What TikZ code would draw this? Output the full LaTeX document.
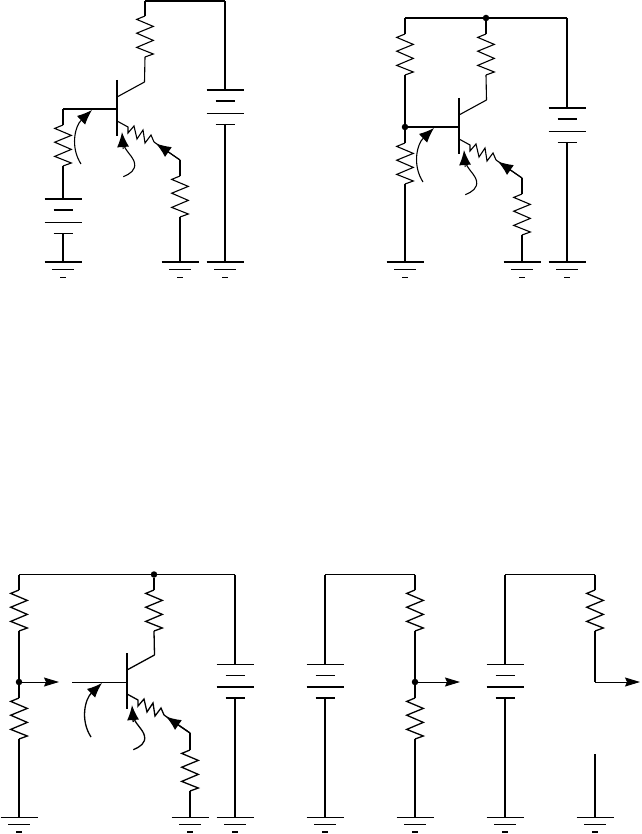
\documentclass[tikz,border=0pt]{standalone}
\usetikzlibrary{arrows.meta}

\tikzset{
    wire/.style={line width=1.1pt},
    heavy/.style={line width=1.7pt},
    upperplate/.style={line width=1.7pt},
    lowerplate/.style={line width=.8pt},
    bigtip/.style={-{Latex[length=15pt,width=12pt]}},
    outtip/.style={-{Stealth[length=15pt,width=9pt,inset=2pt]}},
    dot/.style={circle,fill=black,inner sep=0pt,minimum size=6.5pt},
    res/.pic={
        \coordinate (-t) at (0,0);
        \coordinate (-b) at (0,41);
        \draw[wire,line join=miter] (-t) -- (-8.3,3.4) -- (8.3,10.4) -- (-8.3,17.2) -- (8.3,24.4) -- (-8.3,31.4) -- (8.3,38) -- (-b);
    },
    gnd/.pic={
        \coordinate (-t) at (0,0);
        \draw[upperplate] (-18.5,0) -- (18.5,0);
        \draw[lowerplate] (-11,7.5) -- (11,7.5);
        \draw[lowerplate] (-3,15) -- (3,15);
    },
    batt/.pic={
        \coordinate (-t) at (0,0);
        \coordinate (-b) at (0,34);
        \draw[upperplate] (-18.5,0) -- (18.5,0);
        \draw[upperplate] (-9.5,11) -- (9.5,11);
        \draw[lowerplate] (-18.5,23) -- (18.5,23);
        \draw[lowerplate] (-9.5,34) -- (9.5,34);
    },
    bjt/.pic={
        \coordinate (-b) at (0,0);
        \coordinate (-c) at (27.5,-27);
        \coordinate (-e) at (63,51);
        \draw[wire] (0,-29) -- (0,27);
        \draw[wire] (0,-12) -- (-c);
        \draw[wire] (0,12) -- (11,18) -- (11,24) -- (17,17) -- (20,30) -- (26,21) -- (28,34) -- (34,26) -- (37,33);
        \draw[wire] (-e) -- (37,33);
        \draw[wire,bigtip] (-e) -- (39,34.5);
        \draw[wire,bigtip] (-36,55) .. controls (-47,38) and (-42,17) .. (-25,1);
        \draw[wire] (6.3,67.7) .. controls (13,65) and (19,61) .. (17.5,54) .. controls (16,47) and (8,42) .. (6,34);
        \draw[wire,bigtip] (6.2,40) -- (5,23);
    },
}

\begin{document}
\begin{tikzpicture}[x=1pt,y=-1pt]

    \useasboundingbox (0,0) rectangle (641,834);

    \pic (qa) at (117,109) {bjt};
    \pic (rca) at (145,16) {res};
    \pic (rba) at (63,125) {res};
    \pic (rea) at (180,176) {res};
    \pic (ba) at (63,199) {batt};
    \pic (bb) at (225,90) {batt};
    \pic (ga) at (63,262) {gnd};
    \pic (gb) at (180,262) {gnd};
    \pic (gc) at (225,262) {gnd};
    \coordinate (lefta) at (63,109);
    \coordinate (topa) at (145,1);
    \coordinate (topb) at (225,1);

    \draw[heavy] (lefta) -- (qa-b);
    \draw[wire] (rba-t) -- (lefta);
    \draw[wire] (rba-b) -- (ba-t);
    \draw[wire] (ba-b) -- (ga-t);
    \draw[wire] (qa-c) -- (rca-b);
    \draw[wire] (rca-t) -- (topa);
    \draw[heavy] (topa) -- (topb);
    \draw[wire] (topb) -- (bb-t);
    \draw[wire] (bb-b) -- (gc-t);
    \draw[wire] (qa-e) -- (rea-t);
    \draw[wire] (rea-b) -- (gb-t);

    \pic (qb) at (459,127) {bjt};
    \pic (rcb) at (486,34) {res};
    \pic (rub) at (405,34) {res};
    \pic (rlb) at (405,143) {res};
    \pic (reb) at (522,194) {res};
    \pic (bc) at (567,108) {batt};
    \pic (gd) at (405,262) {gnd};
    \pic (ge) at (522,262) {gnd};
    \pic (gf) at (567,262) {gnd};
    \node[dot] (jb) at (405,127) {};
    \node[dot] (jc) at (486,18) {};
    \coordinate (topc) at (405,18);
    \coordinate (topd) at (567,18);

    \draw[heavy] (topc) -- (jc) -- (topd);
    \draw[wire] (topc) -- (rub-t);
    \draw[wire] (rub-b) -- (jb);
    \draw[wire] (jb) -- (rlb-t);
    \draw[wire] (rlb-b) -- (gd-t);
    \draw[heavy] (jb) -- (qb-b);
    \draw[wire] (jc) -- (rcb-t);
    \draw[wire] (rcb-b) -- (qb-c);
    \draw[wire] (qb-e) -- (reb-t);
    \draw[wire] (reb-b) -- (ge-t);
    \draw[wire] (topd) -- (bc-t);
    \draw[wire] (bc-b) -- (gf-t);

    \begin{scope}[upperplate/.style={line width=.8pt},lowerplate/.style={line width=1.7pt},wire/.style={line width=1.3pt}]

        \pic (qc) at (127,682) {bjt};
        \pic (rcc) at (154,590) {res};
        \pic (ruc) at (19,590) {res};
        \pic (rlc) at (19,698) {res};
        \pic (rec) at (190,750) {res};
        \pic (bd) at (235,664) {batt};
        \pic (gg) at (19,817) {gnd};
        \pic (gh) at (190,817) {gnd};
        \pic (gi) at (235,817) {gnd};
        \node[dot] (jd) at (19,682) {};
        \node[dot] (je) at (154,574.5) {};
        \coordinate (tope) at (19,574.5);
        \coordinate (topf) at (235,574.5);
        \coordinate (outa) at (59,682);
        \coordinate (ina) at (72,682);

        \draw[line width=.9pt] (tope) -- (je) -- (topf);
        \draw[wire] (tope) -- (ruc-t);
        \draw[wire] (ruc-b) -- (jd);
        \draw[wire] (jd) -- (rlc-t);
        \draw[wire] (rlc-b) -- (gg-t);
        \draw[line width=.9pt,outtip] (jd) -- (outa);
        \draw[line width=.9pt] (ina) -- (qc-b);
        \draw[wire] (je) -- (rcc-t);
        \draw[wire] (rcc-b) -- (qc-c);
        \draw[wire] (qc-e) -- (rec-t);
        \draw[wire] (rec-b) -- (gh-t);
        \draw[wire] (topf) -- (bd-t);
        \draw[wire] (bd-b) -- (gi-t);

        \pic (be) at (325,664) {batt};
        \pic (rud) at (415,590) {res};
        \pic (rld) at (415,698) {res};
        \pic (gj) at (325,817) {gnd};
        \pic (gk) at (415,817) {gnd};
        \node[dot] (jf) at (415,682) {};
        \coordinate (topg) at (325,574.5);
        \coordinate (toph) at (415,574.5);
        \coordinate (outb) at (460,682);

        \draw[line width=.9pt] (topg) -- (toph);
        \draw[wire] (topg) -- (be-t);
        \draw[wire] (be-b) -- (gj-t);
        \draw[wire] (toph) -- (rud-t);
        \draw[wire] (rud-b) -- (jf);
        \draw[wire] (jf) -- (rld-t);
        \draw[wire] (rld-b) -- (gk-t);
        \draw[line width=.9pt,outtip] (jf) -- (outb);

        \pic (bf) at (505,664) {batt};
        \pic (rue) at (595,590) {res};
        \pic (gl) at (505,817) {gnd};
        \pic (gm) at (595,817) {gnd};
        \coordinate (topi) at (505,574.5);
        \coordinate (topj) at (595,574.5);
        \coordinate (bend) at (595,682);
        \coordinate (outc) at (640,682);
        \coordinate (stub) at (595,754);

        \draw[line width=.9pt] (topi) -- (topj);
        \draw[wire] (topi) -- (bf-t);
        \draw[wire] (bf-b) -- (gl-t);
        \draw[wire] (topj) -- (rue-t);
        \draw[wire] (rue-b) -- (bend);
        \draw[line width=.9pt,outtip] (bend) -- (outc);
        \draw[wire] (stub) -- (gm-t);

    \end{scope}

\end{tikzpicture}
\end{document}
